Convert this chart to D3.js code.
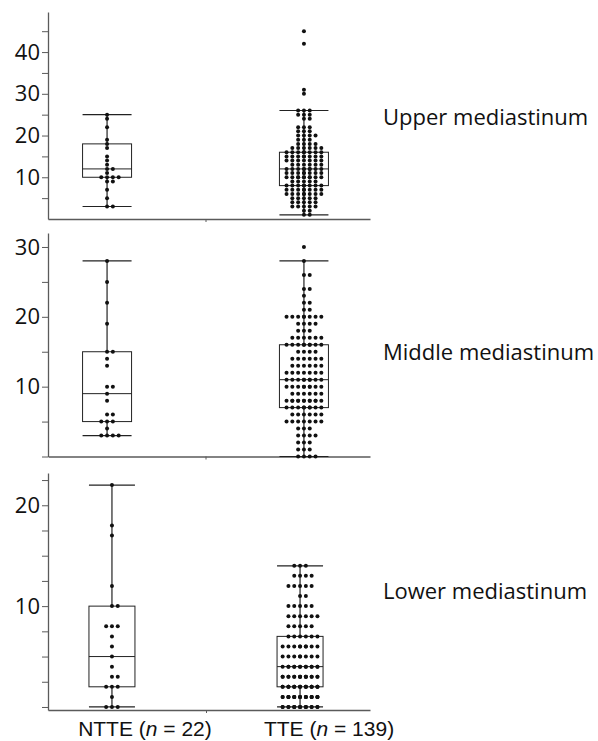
<!DOCTYPE html>
<html>
<head>
<meta charset="utf-8">
<script src="https://cdn.jsdelivr.net/npm/d3@7"></script>
<style>
body { margin: 0; background: #fff; }
svg { display: block; }
</style>
</head>
<body>
<svg id="chart" width="598" height="741"></svg>
<script>
const groups = ['NTTE', 'TTE'];
const groupN = [22, 139];
const regions = ['Upper mediastinum', 'Middle mediastinum', 'Lower mediastinum'];

// box stats: [lower whisker, q1, median, q3, upper whisker] for NTTE, TTE
const upperBox = [[3, 10, 12, 18, 25], [1, 8, 12, 16, 26]];
const middleBox = [[3, 5, 9, 15, 28], [0, 7, 11, 16, 28]];
const lowerBox = [[0, 2, 5, 10, 22], [0, 2, 4, 7, 14]];

// individual observations
const upperNTTE = [25, 24, 22, 19, 18, 17, 15, 14, 13, 12, 12, 11, 10, 10, 10, 10, 9, 9, 7, 5, 3, 3];
const upperTTE = [45, 42, 31, 30,
	26, 26, 26, 25, 25, 25, 24, 24, 22, 22, 22, 21, 21, 21,
	20, 20, 20, 20, 19, 19, 19, 18, 18, 18, 18,
	17, 17, 17, 17, 17, 17, 16, 16, 16, 16, 16, 16, 16, 16,
	15, 15, 15, 15, 15, 15, 15, 15, 14, 14, 14, 14, 14, 14, 14,
	13, 13, 13, 13, 13, 13, 12, 12, 12, 12, 12, 12, 12, 12, 12,
	11, 11, 11, 11, 11, 11, 11, 11, 10, 10, 10, 10, 10, 10, 10, 10, 10, 10,
	9, 9, 9, 9, 9, 8, 8, 8, 8, 8, 8, 8, 8,
	7, 7, 7, 7, 7, 7, 7, 7, 6, 6, 6, 6, 6, 6, 6, 6,
	5, 5, 5, 5, 5, 4, 4, 4, 4, 4, 3, 3, 3, 3, 3, 2, 2, 1, 1];

const middleNTTE = [28, 25, 22, 19, 15, 15, 14, 13, 10, 10, 9, 8, 6, 6, 5, 5, 5, 4, 3, 3, 3, 3];
const middleTTE = [30, 28, 26, 26, 24, 24, 23, 22, 22, 21, 21,
	20, 20, 20, 20, 20, 20, 20, 20, 19, 19, 19, 19, 18, 18, 18,
	17, 17, 17, 17, 17, 17, 16, 16, 16, 16, 16, 16, 16, 16, 16,
	15, 15, 15, 15, 14, 14, 14, 14, 14, 14, 13, 13, 13, 13, 13, 13,
	12, 12, 12, 12, 12, 12, 12, 11, 11, 11, 11, 11, 11, 11, 11, 11,
	10, 10, 10, 10, 10, 10, 10, 10, 10, 9, 9, 9, 9, 9, 9,
	8, 8, 8, 8, 8, 8, 8, 8, 8, 8, 8, 8, 7, 7, 7, 7, 7, 7, 7, 7, 7,
	6, 6, 6, 6, 6, 6, 5, 5, 5, 5, 5, 5, 5, 4, 4, 4,
	3, 3, 3, 3, 2, 2, 2, 1, 1, 1, 0, 0, 0, 0];

const lowerNTTE = [22, 18, 17, 12, 10, 10, 8, 8, 8, 7, 6, 5, 4, 3, 3, 2, 2, 2, 1, 0, 0, 0];
const lowerTTE = [14, 14, 14, 13, 13, 13, 13, 12, 12, 12, 12, 12, 11, 11,
	10, 10, 10, 10, 10, 9, 9, 9, 9, 9, 9, 8, 8, 8, 8, 8,
	7, 7, 7, 7, 7, 7, 6, 6, 6, 6, 6, 6, 6, 6, 6,
	5, 5, 5, 5, 5, 5, 5, 5, 4, 4, 4, 4, 4, 4, 4, 4, 4, 4, 4, 4, 4,
	3, 3, 3, 3, 3, 3, 3, 3, 3, 3, 3, 3, 3, 3, 3, 3,
	2, 2, 2, 2, 2, 2, 2, 2, 2, 2, 2, 2, 2, 2, 2, 2, 2, 2, 2, 2,
	1, 1, 1, 1, 1, 1, 1, 1, 1, 1, 1, 1, 1, 1, 1, 1, 1, 1, 1, 1,
	0, 0, 0, 0, 0, 0, 0, 0, 0, 0, 0, 0, 0, 0, 0, 0, 0];

// y ticks
const upperTicks = [5, 10, 15, 20, 25, 30, 35, 40, 45];
const upperTickLabels = [10, 20, 30, 40];
const middleTicks = [0, 5, 10, 15, 20, 25, 30];
const middleTickLabels = [10, 20, 30];
const lowerTicks = [0, 2.5, 5, 7.5, 10, 12.5, 15, 17.5, 20, 22.5];
const lowerTickLabels = [10, 20];

// layout of each panel
const panels = [
	{ name: regions[0], box: upperBox, pts: [upperNTTE, upperTTE], ticks: upperTicks, labels: upperTickLabels,
	  yMin: 0, yMax: 49.6, bottom: 219, top: 12, xPad: 0.3, xEnd: 363, boxW: 49, labelY: 125 },
	{ name: regions[1], box: middleBox, pts: [middleNTTE, middleTTE], ticks: middleTicks, labels: middleTickLabels,
	  yMin: 0, yMax: 32, bottom: 456.5, top: 233, xPad: 0.3, xEnd: 363, boxW: 49, labelY: 360 },
	{ name: regions[2], box: lowerBox, pts: [lowerNTTE, lowerTTE], ticks: lowerTicks, labels: lowerTickLabels,
	  yMin: -0.3, yMax: 23.2, bottom: 710, top: 473, xPad: 0.34, xEnd: 364, boxW: 46, labelY: 599 }
];

const axisLeftX = 48;
const axisRightX = 370;
const ink = '#222';
const axisColor = '#5a5a5a';

const svg = d3.select('#chart');

// centred dodge: points sharing a value sit side by side, extra ones overlap
function swarm(values, cx, y) {
	const maxSlots = 7, gap = 5.8;
	const out = [];
	d3.group(values, v => v).forEach((arr, v) => {
		arr.forEach((_, i) => {
			const k = i % maxSlots;
			const off = k === 0 ? 0 : (k % 2 ? 1 : -1) * Math.ceil(k / 2);
			out.push({ cx: cx + off * gap, cy: y(v) });
		});
	});
	return out;
}

let lastX = null;
panels.forEach(p => {
	const g = svg.append('g');
	const y = d3.scaleLinear().domain([p.yMin, p.yMax]).range([p.bottom, p.top]);
	const x = d3.scalePoint().domain(groups).range([axisLeftX, p.xEnd]).padding(p.xPad);
	lastX = x;

	// y axis
	const yAxis = d3.axisLeft(y)
		.tickValues(p.ticks)
		.tickSize(6)
		.tickSizeOuter(0)
		.tickPadding(2)
		.tickFormat(d => p.labels.includes(d) ? d : '');
	const ya = g.append('g').attr('transform', `translate(${axisLeftX},0)`).call(yAxis);
	ya.select('.domain').attr('stroke', axisColor).attr('stroke-width', 1.3);
	ya.selectAll('.tick line').attr('stroke', axisColor).attr('stroke-width', 1);
	ya.selectAll('text').attr('fill', '#111').style('font-family', '"Open Sans", sans-serif').style('font-size', '22px');

	// x axis line with a small middle tick
	const xl = d3.scaleLinear().domain([axisLeftX, axisRightX]).range([axisLeftX, axisRightX]);
	const mid = (x(groups[0]) + x(groups[1])) / 2;
	const xa = g.append('g').attr('transform', `translate(0,${p.bottom})`)
		.call(d3.axisBottom(xl).tickValues([mid]).tickSize(3).tickSizeOuter(0).tickFormat(''));
	xa.select('.domain').attr('stroke', axisColor).attr('stroke-width', 1.3);
	xa.selectAll('.tick line').attr('stroke', axisColor);

	// boxes
	groups.forEach((grp, i) => {
		const s = p.box[i];
		const cx = x(grp);
		const hw = p.boxW / 2;
		const bg = g.append('g').attr('stroke', ink).attr('fill', 'none');
		bg.append('line').attr('x1', cx).attr('x2', cx).attr('y1', y(s[0])).attr('y2', y(s[1])).attr('stroke-width', 1.2);
		bg.append('line').attr('x1', cx).attr('x2', cx).attr('y1', y(s[3])).attr('y2', y(s[4])).attr('stroke-width', 1.2);
		bg.append('line').attr('x1', cx - hw).attr('x2', cx + hw).attr('y1', y(s[0])).attr('y2', y(s[0])).attr('stroke-width', 1.2);
		bg.append('line').attr('x1', cx - hw).attr('x2', cx + hw).attr('y1', y(s[4])).attr('y2', y(s[4])).attr('stroke-width', 1.2);
		bg.append('rect').attr('x', cx - hw).attr('y', y(s[3])).attr('width', p.boxW).attr('height', y(s[1]) - y(s[3])).attr('stroke-width', 1);
		bg.append('line').attr('x1', cx - hw).attr('x2', cx + hw).attr('y1', y(s[2])).attr('y2', y(s[2])).attr('stroke-width', 1);

		g.append('g').selectAll('circle').data(swarm(p.pts[i], cx, y)).enter().append('circle')
			.attr('cx', d => d.cx)
			.attr('cy', d => d.cy)
			.attr('r', 2)
			.attr('fill', '#111');
	});

	// region label
	g.append('text')
		.attr('x', 383)
		.attr('y', p.labelY)
		.attr('fill', '#111')
		.style('font-family', '"Open Sans", sans-serif')
		.style('font-size', '22px')
		.text(p.name);
});

// group labels under the last panel
const labelDx = [33, 29];
groups.forEach((grp, i) => {
	const t = svg.append('text')
		.attr('x', lastX(grp) + labelDx[i])
		.attr('y', 736)
		.attr('text-anchor', 'middle')
		.attr('fill', '#111')
		.style('font-family', '"Liberation Sans", Arial, sans-serif')
		.style('font-size', '21px');
	t.append('tspan').text(grp + ' (');
	t.append('tspan').style('font-style', 'italic').text('n');
	t.append('tspan').text(' = ' + groupN[i] + ')');
});
</script>
</body>
</html>
